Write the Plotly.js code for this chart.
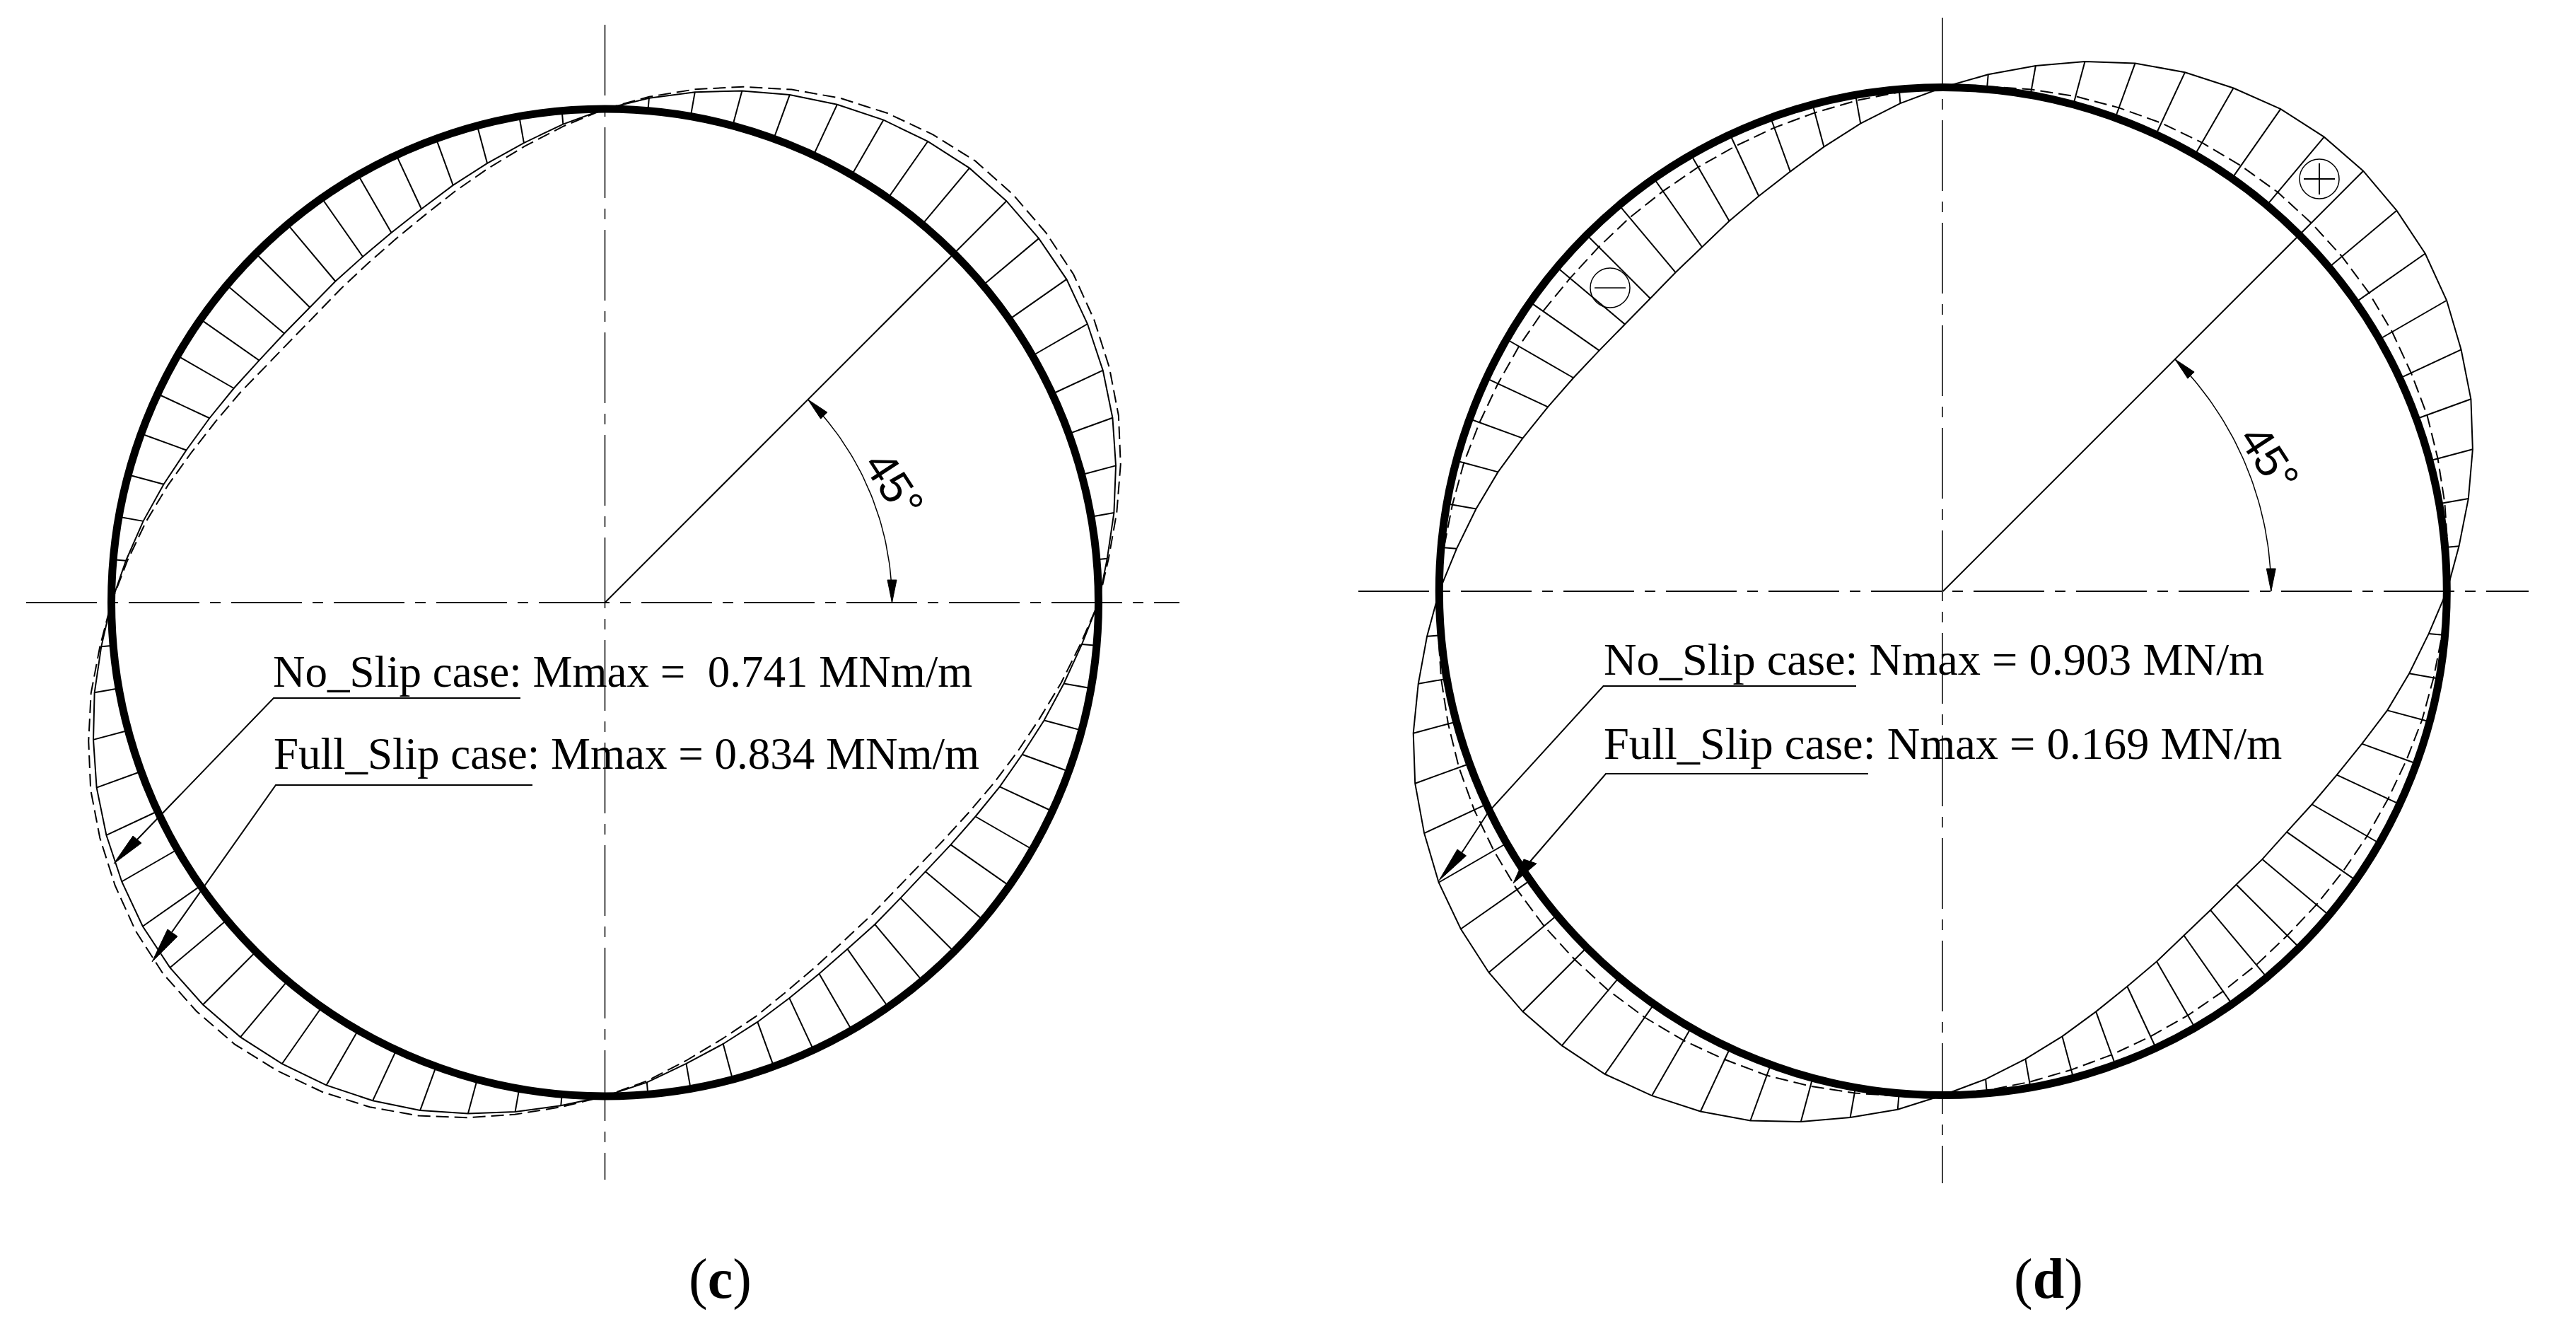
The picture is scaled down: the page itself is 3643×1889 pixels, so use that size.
<!DOCTYPE html>
<html>
<head>
<meta charset="utf-8">
<script src="https://cdn.plot.ly/plotly-3.0.1.min.js"></script>
<style>html,body{margin:0;padding:0;background:#fff}#plot{width:3643px;height:1889px}</style>
</head>
<body>
<div id="plot"></div>
<script>
// angle of each ordinate, degrees, counter-clockwise from the horizontal axis
const angles = [0,5,10,15,20,25,30,35,40,45,50,55,60,65,70,75,80,85,
  90,95,100,105,110,115,120,125,130,135,140,145,150,155,160,165,170,175,
  180,185,190,195,200,205,210,215,220,225,230,235,240,245,250,255,260,265,
  270,275,280,285,290,295,300,305,310,315,320,325,330,335,340,345,350,355];

// (c) bending moment ordinates (drawing units off the ring)
const cNoSlip = [0,15,33,50,66,79,90,99,103,105,104,98,90,79,66,51,35,18,
  0,-19,-38,-55,-70,-84,-94,-101,-105,-108,-106,-101,-92,-81,-68,-52,-35,-18,
  0,17,35,51,67,80,91,100,105,106,104,98,90,79,66,50,33,16,
  0,-17,-36,-52,-67,-81,-92,-100,-104,-107,-106,-101,-93,-82,-70,-55,-39,-21];
const cFullSlip = [0,17,37,57,75,89,101,111,116,118,117,110,101,89,74,57,39,20,
  0,-22,-43,-62,-79,-94,-105,-113,-118,-121,-119,-113,-103,-91,-76,-58,-39,-20,
  0,19,40,58,76,90,102,112,118,119,117,110,101,89,74,56,37,18,
  0,-19,-40,-59,-75,-91,-103,-112,-117,-120,-119,-113,-104,-92,-78,-62,-43,-23];

// (d) axial force ordinates
const dNoSlip = [0,20,42,63,82,96,110,120,125,128,126,120,109,97,82,63,42,21,
  0,-20,-41,-62,-81,-96,-108,-118,-124,-127,-125,-119,-109,-96,-80,-61,-42,-22,
  0,20,41,63,82,97,111,120,126,128,126,121,111,99,84,64,43,23,
  0,-20,-41,-61,-80,-96,-108,-118,-124,-126,-123,-119,-110,-98,-82,-62,-43,-23];
const dFullSlip = [0,4,8,12,16,18,21,23,24,24,24,22,20,18,15,12,8,4,
  0,-4,-8,-12,-15,-18,-20,-22,-23,-24,-24,-22,-20,-18,-15,-11,-8,-4,
  0,4,8,12,16,19,21,23,24,24,24,23,21,18,16,12,8,4,
  0,-4,-8,-12,-15,-18,-20,-22,-23,-24,-23,-22,-20,-18,-15,-11,-8,-4];

const labelsC = ["No_Slip case: Mmax =\u00A0 0.741 MNm/m", "Full_Slip case: Mmax = 0.834 MNm/m"];
const labelsD = ["No_Slip case: Nmax = 0.903 MN/m", "Full_Slip case: Nmax = 0.169 MN/m"];
const captions = ["(<b>c</b>)", "(<b>d</b>)"];
const angleLabel = "45°";

// page geometry of each panel
const W = 3643, H = 1889, SPLIT = 1820;
const C = {xa:'x',  ya:'y',  cx:855.5,  cy:852, R:698,   arc:406};
const D = {xa:'x2', ya:'y2', cx:2747.8, cy:836, R:712.5, arc:464};
const rad = a => a*Math.PI/180;
const px = (p,x) => x - p.cx;
const py = (p,y) => p.cy - y;

function line(p, xs, ys, width, dash){
  return {type:'scatter', mode:'lines', xaxis:p.xa, yaxis:p.ya, x:xs, y:ys,
          line:{color:'#000', width:width, dash:dash||'solid'}, hoverinfo:'skip'};
}
function pageLine(p, pts, width, dash){
  return line(p, pts.map(q=>px(p,q[0])), pts.map(q=>py(p,q[1])), width, dash);
}
function tri(p, pts){
  const t = pageLine(p, pts.concat([pts[0]]), 1);
  t.fill='toself'; t.fillcolor='#000'; return t;
}
function curve(p, vals, dash, width){
  const xs=[],ys=[];
  angles.forEach((a,i)=>{const r=p.R+vals[i]; xs.push(r*Math.cos(rad(a))); ys.push(r*Math.sin(rad(a)));});
  xs.push(xs[0]); ys.push(ys[0]);
  return line(p,xs,ys,width,dash);
}
function hatches(p, vals){
  const xs=[],ys=[];
  angles.forEach((a,i)=>{
    if(vals[i]===0) return;
    const r=p.R+vals[i];
    xs.push(p.R*Math.cos(rad(a)), r*Math.cos(rad(a)), null);
    ys.push(p.R*Math.sin(rad(a)), r*Math.sin(rad(a)), null);
  });
  return line(p,xs,ys,2);
}
function angleMark(p){
  const xs=[],ys=[];
  for(let a=0;a<=45;a+=1){xs.push(p.arc*Math.cos(rad(a)));ys.push(p.arc*Math.sin(rad(a)));}
  const arc=line(p,xs,ys,1.5);
  const L=32, Wd=6.5;
  const head=(tipA,sign)=>{
    const t=[p.arc*Math.cos(rad(tipA)),p.arc*Math.sin(rad(tipA))];
    const d=[-Math.sin(rad(tipA))*sign,Math.cos(rad(tipA))*sign];
    const n=[Math.cos(rad(tipA)),Math.sin(rad(tipA))];
    const b=[t[0]+d[0]*L,t[1]+d[1]*L];
    const h=line(p,[t[0],b[0]+n[0]*Wd,b[0]-n[0]*Wd,t[0]],[t[1],b[1]+n[1]*Wd,b[1]-n[1]*Wd,t[1]],1);
    h.fill='toself';h.fillcolor='#000';return h;
  };
  const spoke=line(p,[0,p.R*Math.cos(rad(45))],[0,p.R*Math.sin(rad(45))],2);
  return [spoke,arc,head(0,1),head(45,-1)];
}
const CL='100px,15px,15px,15px';

const data=[];
// (c)
data.push(pageLine(C,[[37,852],[1668,852]],2,CL), pageLine(C,[[855.5,35],[855.5,1668]],1.5,CL));
data.push(hatches(C,cNoSlip), curve(C,cNoSlip,'solid',2), curve(C,cFullSlip,'18px,8px',2));
data.push(...angleMark(C));
data.push(pageLine(C,[[736,987],[387,987],[194,1187]],2), tri(C,[[161,1221],[188,1182],[200,1192]]));
data.push(pageLine(C,[[753,1110],[390,1110],[243,1318]],2), tri(C,[[215,1360],[237,1314],[251,1324]]));
// (d)
data.push(pageLine(D,[[1921,836],[3576,836]],2,CL), pageLine(D,[[2747,25],[2747,1673]],1.5,CL));
data.push(hatches(D,dNoSlip), curve(D,dNoSlip,'solid',2), curve(D,dFullSlip,'18px,8px',2));
data.push(...angleMark(D));
data.push(pageLine(D,[[2625,970],[2267.5,970],[2105,1148],[2067,1206]],2), tri(D,[[2035,1245],[2061,1201],[2073.5,1210]]));
data.push(pageLine(D,[[2642,1094],[2271,1094],[2164,1218]],2), tri(D,[[2140,1249],[2155,1215],[2173,1221]]));
data.push(pageLine(D,[[2255,407],[2299,407]],1.5));
data.push(pageLine(D,[[3258,253],[3302,253]],2), pageLine(D,[[3280,231],[3280,275]],2));

function sym(p,x,y,r){
  return {type:'circle',xref:p.xa,yref:p.ya,x0:px(p,x)-r,x1:px(p,x)+r,y0:py(p,y)-r,y1:py(p,y)+r,line:{color:'#000',width:1.5},layer:'above'};
}
function ring(p){
  return {type:'circle',xref:p.xa,yref:p.ya,x0:-p.R,x1:p.R,y0:-p.R,y1:p.R,line:{color:'#000',width:11},layer:'above'};
}
function label(p,text,x,baseline,size){
  return {xref:p.xa,yref:p.ya,x:px(p,x),y:py(p,baseline-size*0.31),text:text,showarrow:false,
          xanchor:'left',yanchor:'middle',borderpad:0,font:{family:'Liberation Serif',size:size,color:'#000'}};
}
function centred(p,text,x,y,size,font,rot){
  return {xref:p.xa,yref:p.ya,x:px(p,x),y:py(p,y),text:text,showarrow:false,textangle:rot||0,
          xanchor:'center',yanchor:'middle',borderpad:0,font:{family:font,size:size,color:'#000'}};
}
const layout={
  width:W,height:H,margin:{l:0,r:0,t:0,b:0},paper_bgcolor:'#fff',plot_bgcolor:'rgba(0,0,0,0)',showlegend:false,hovermode:false,
  xaxis:{domain:[0,SPLIT/W],range:[-C.cx,SPLIT-C.cx],visible:false,fixedrange:true},
  yaxis:{domain:[0,1],range:[C.cy-H,C.cy],visible:false,fixedrange:true},
  xaxis2:{domain:[SPLIT/W,1],range:[SPLIT-D.cx,W-D.cx],visible:false,fixedrange:true},
  yaxis2:{domain:[0,1],range:[D.cy-H,D.cy],visible:false,fixedrange:true,anchor:'x2'},
  shapes:[ring(C),ring(D),sym(D,2277,407,28),sym(D,3280,253,28)],
  annotations:[
    label(C,labelsC[0],385,970,63),
    label(C,labelsC[1],386,1086,63),
    label(D,labelsD[0],2267,952,64.4),
    label(D,labelsD[1],2267,1071,64.4),
    centred(C,captions[0],1018,1808,80,'Liberation Serif'),
    centred(D,captions[1],2897,1808,80,'Liberation Serif'),
    centred(C,angleLabel,1264,685,64,'Liberation Sans',57),
    centred(D,angleLabel,3209,648,64,'Liberation Sans',57)
  ]
};
Plotly.newPlot('plot',data,layout,{staticPlot:true,displayModeBar:false});
</script>
</body>
</html>
